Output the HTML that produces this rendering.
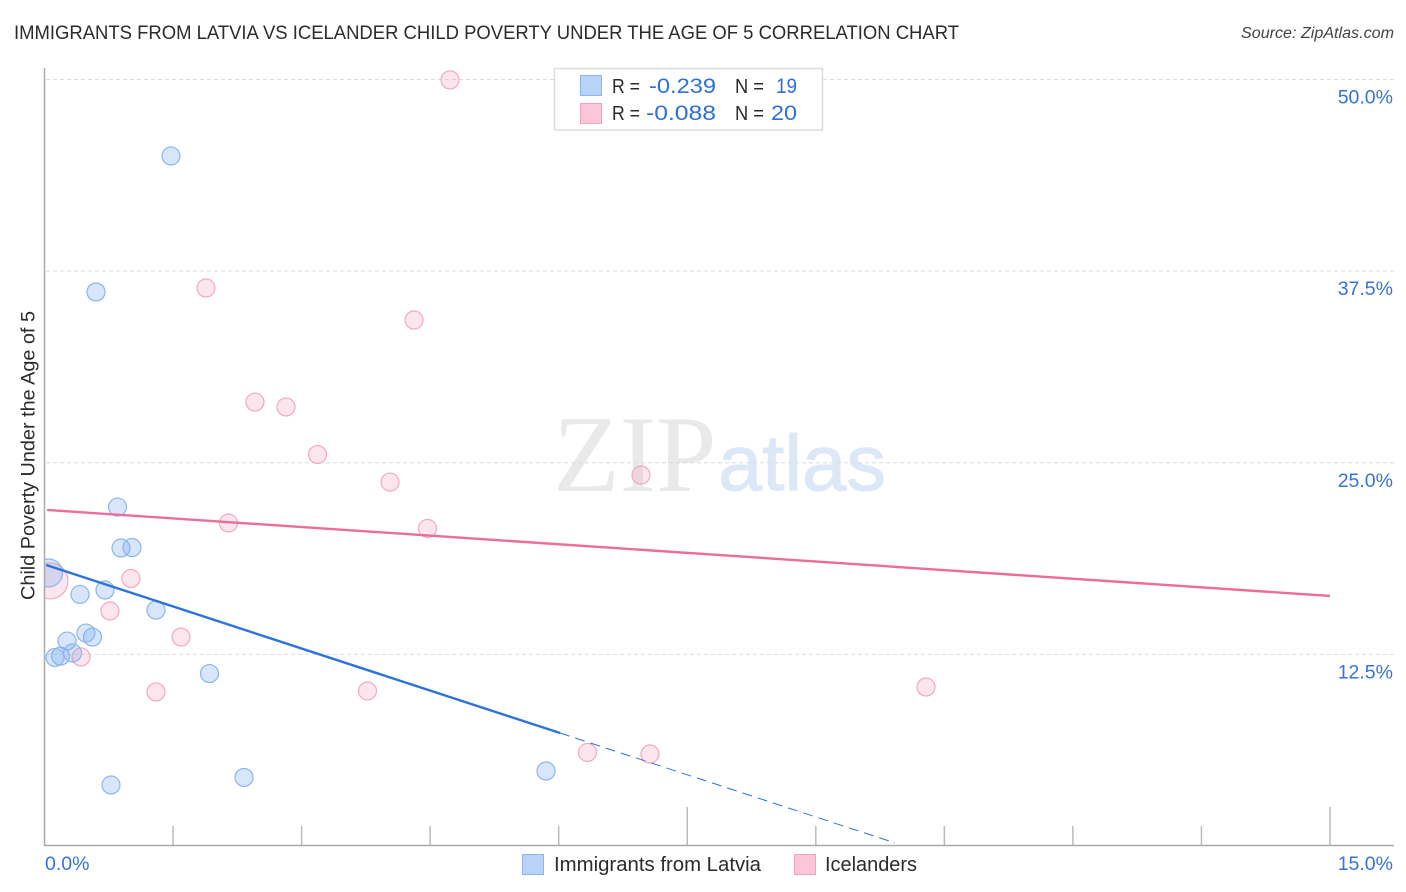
<!DOCTYPE html>
<html lang="en">
<head>
<meta charset="utf-8">
<title>Immigrants from Latvia vs Icelander Child Poverty Under the Age of 5 Correlation Chart</title>
<style>
html,body{margin:0;padding:0;background:#fff;width:1406px;height:892px;overflow:hidden}
svg{display:block;font-family:"Liberation Sans",sans-serif}
</style>
</head>
<body>
<svg id="chart" width="1406" height="892" viewBox="0 0 1406 892">
  <rect x="0" y="0" width="1406" height="892" fill="#ffffff"/>
  <text x="14" y="39" font-size="19.5" fill="#2b2b2b" textLength="945" lengthAdjust="spacingAndGlyphs">IMMIGRANTS FROM LATVIA VS ICELANDER CHILD POVERTY UNDER THE AGE OF 5 CORRELATION CHART</text>
  <text x="1394" y="38" font-size="15.5" font-style="italic" fill="#444" text-anchor="end" textLength="153" lengthAdjust="spacingAndGlyphs">Source: ZipAtlas.com</text>

  <g>
    <text x="553" y="491" font-size="109" fill="#e9e9e9" style="font-family:'Liberation Serif',serif">ZIP</text>
    <text x="718" y="490" font-size="79" fill="#dce8f8" stroke="#dce8f8" stroke-width="1" textLength="168" lengthAdjust="spacingAndGlyphs">atlas</text>
  </g>

  <g id="grid"></g>
  <g id="ticks"></g>
  <line x1="44" y1="845.5" x2="1394" y2="845.5" stroke="#aaaaaa" stroke-width="1.5"/>
  <g id="y-labels"></g>
  <g id="x-labels"></g>

  <g id="points-pink"></g>
  <g id="points-blue"></g>
  <g id="trends"></g>

  <rect x="0" y="60" width="44.5" height="790" fill="#ffffff"/>
  <line x1="44.5" y1="68" x2="44.5" y2="846" stroke="#aaaaaa" stroke-width="1.5"/>
  <text transform="translate(34.5,455.5) rotate(-90)" font-size="19.5" fill="#2b2b2b" text-anchor="middle" textLength="289" lengthAdjust="spacingAndGlyphs">Child Poverty Under the Age of 5</text>

  <g>
    <rect x="554.5" y="68.5" width="268" height="61.5" fill="#ffffff" stroke="#dddddd" stroke-width="1.5"/>
    <rect x="580.5" y="75.5" width="21" height="20" fill="#b7d3f8" stroke="#8db5ea" stroke-width="1"/>
    <rect x="580.5" y="103.5" width="21" height="20" fill="#fcc6d8" stroke="#f0a5bf" stroke-width="1"/>
    <g font-size="21">
      <text x="612" y="93" font-size="20" fill="#2b2b2b" textLength="28" lengthAdjust="spacingAndGlyphs">R =</text>
      <text x="649" y="93" fill="#2f6fd6" textLength="67" lengthAdjust="spacingAndGlyphs">-0.239</text>
      <text x="735" y="93" font-size="20" fill="#2b2b2b" textLength="29" lengthAdjust="spacingAndGlyphs">N =</text>
      <text x="776" y="93" fill="#2f6fd6" textLength="21" lengthAdjust="spacingAndGlyphs">19</text>
      <text x="612" y="120" font-size="20" fill="#2b2b2b" textLength="28" lengthAdjust="spacingAndGlyphs">R =</text>
      <text x="646" y="120" fill="#2f6fd6" textLength="70" lengthAdjust="spacingAndGlyphs">-0.088</text>
      <text x="735" y="120" font-size="20" fill="#2b2b2b" textLength="29" lengthAdjust="spacingAndGlyphs">N =</text>
      <text x="771" y="120" fill="#2f6fd6" textLength="26" lengthAdjust="spacingAndGlyphs">20</text>
    </g>
  </g>

  <g>
    <rect x="522.5" y="854.5" width="21" height="20" fill="#b7d3f8" stroke="#8db5ea" stroke-width="1"/>
    <text x="554" y="871" font-size="20" fill="#2b2b2b" textLength="207" lengthAdjust="spacingAndGlyphs">Immigrants from Latvia</text>
    <rect x="794.5" y="854.5" width="21" height="20" fill="#fcc6d8" stroke="#f0a5bf" stroke-width="1"/>
    <text x="825" y="871" font-size="20" fill="#2b2b2b" textLength="92" lengthAdjust="spacingAndGlyphs">Icelanders</text>
  </g>
</svg>
<script>
const yTickValues = [12.5, 25, 37.5, 50];
const yTickLabels = ["12.5%", "25.0%", "37.5%", "50.0%"];
const xTickValues = [1.5, 3, 4.5, 6, 7.5, 9, 10.5, 12, 13.5, 15];
const xMajorTicks = [7.5, 15];
const xEndLabels = ["0.0%", "15.0%"];

const latviaX = [1.476, 0.601, 0.852, 0.893, 1.021, 0.047, 0.414, 0.706, 1.301, 0.560, 0.484, 0.263, 0.327, 0.187, 0.123, 1.925, 0.776, 2.328, 5.852];
const latviaY = [45.01, 36.14, 22.11, 19.44, 19.47, 17.81, 16.41, 16.70, 15.39, 13.63, 13.89, 13.37, 12.59, 12.39, 12.30, 11.25, 3.98, 4.47, 4.89];
const latviaSize = [9, 9, 9, 9, 9, 14, 9, 9, 9, 9, 9, 9, 9, 9, 9, 9, 9, 9, 9];

const icelandX = [4.732, 1.884, 4.312, 2.456, 2.818, 3.186, 4.032, 6.960, 2.147, 4.469, 1.009, 0.064, 0.764, 1.593, 0.426, 1.301, 3.769, 10.286, 6.336, 7.065];
const icelandY = [49.97, 36.40, 34.31, 28.96, 28.64, 25.54, 23.74, 24.20, 21.07, 20.71, 17.45, 17.29, 15.33, 13.63, 12.33, 10.05, 10.11, 10.37, 6.10, 6.00];
const icelandSize = [9, 9, 9, 9, 9, 9, 9, 9, 9, 9, 9, 18, 9, 9, 9, 9, 9, 9, 9, 9];

const latviaTrendX = [0.02, 6.015];
const latviaTrendY = [18.33, 7.37];
const latviaTrendExtX = [6.015, 9.924];
const latviaTrendExtY = [7.37, 0.2];
const icelandTrendX = [0.03, 15];
const icelandTrendY = [21.92, 16.31];

const NS = 'http://www.w3.org/2000/svg';
function sx(v) { return 44.5 + v * 85.7; }
function sy(v) { return 846 - v * 15.33; }
function make(tag, attrs, parent, text) {
  const el = document.createElementNS(NS, tag);
  for (const k in attrs) el.setAttribute(k, attrs[k]);
  if (text !== undefined) el.textContent = text;
  parent.appendChild(el);
  return el;
}

const grid = document.getElementById('grid');
const yLabels = document.getElementById('y-labels');
yTickValues.forEach(function (v, i) {
  const line = make('line', { x1: 46, x2: 1394, y1: sy(v), y2: sy(v), stroke: '#dcdcdc', 'stroke-width': 1, 'stroke-dasharray': '4 3' }, grid);
  
  
  const label = make('text', { x: 1393, y: sy(v) + 24, 'font-size': 19.5, fill: '#3474d8', 'text-anchor': 'end' }, yLabels, yTickLabels[i]);
  
  
});

const ticks = document.getElementById('ticks');
xTickValues.forEach(function (v) {
  const top = xMajorTicks.indexOf(v) >= 0 ? 807 : 826;
  const tick = make('line', { x1: sx(v), x2: sx(v), y1: top, y2: 846, stroke: '#bbbbbb', 'stroke-width': 1.5 }, ticks);
  
  
});

const xLabels = document.getElementById('x-labels');
const xStart = make('text', { x: 45, y: 870, 'font-size': 19.5, fill: '#3474d8' }, xLabels, xEndLabels[0]);


const xEnd = make('text', { x: 1393, y: 870, 'font-size': 19.5, fill: '#3474d8', 'text-anchor': 'end' }, xLabels, xEndLabels[1]);



const pinkGroup = document.getElementById('points-pink');
icelandX.forEach(function (x, i) {
  const c = make('circle', { cx: sx(x), cy: sy(icelandY[i]), r: icelandSize[i], fill: 'rgba(250,170,195,0.3)', stroke: '#f2a9c2', 'stroke-width': 1.2 }, pinkGroup);
  
  
});
const blueGroup = document.getElementById('points-blue');
latviaX.forEach(function (x, i) {
  const c = make('circle', { cx: sx(x), cy: sy(latviaY[i]), r: latviaSize[i], fill: 'rgba(110,165,240,0.28)', stroke: '#8db5ea', 'stroke-width': 1.2 }, blueGroup);
  
  
});

const trends = document.getElementById('trends');
const pinkLine = make('line', { x1: sx(icelandTrendX[0]), y1: sy(icelandTrendY[0]), x2: sx(icelandTrendX[1]), y2: sy(icelandTrendY[1]), stroke: '#ec6d9c', 'stroke-width': 2.4 }, trends);


const blueLine = make('line', { x1: sx(latviaTrendX[0]), y1: sy(latviaTrendY[0]), x2: sx(latviaTrendX[1]), y2: sy(latviaTrendY[1]), stroke: '#2a72dc', 'stroke-width': 2.4 }, trends);


const blueDash = make('line', { x1: sx(latviaTrendExtX[0]), y1: sy(latviaTrendExtY[0]), x2: sx(latviaTrendExtX[1]), y2: sy(latviaTrendExtY[1]), stroke: '#2a72dc', 'stroke-width': 1, 'stroke-dasharray': '10 6' }, trends);


</script>
</body>
</html>
